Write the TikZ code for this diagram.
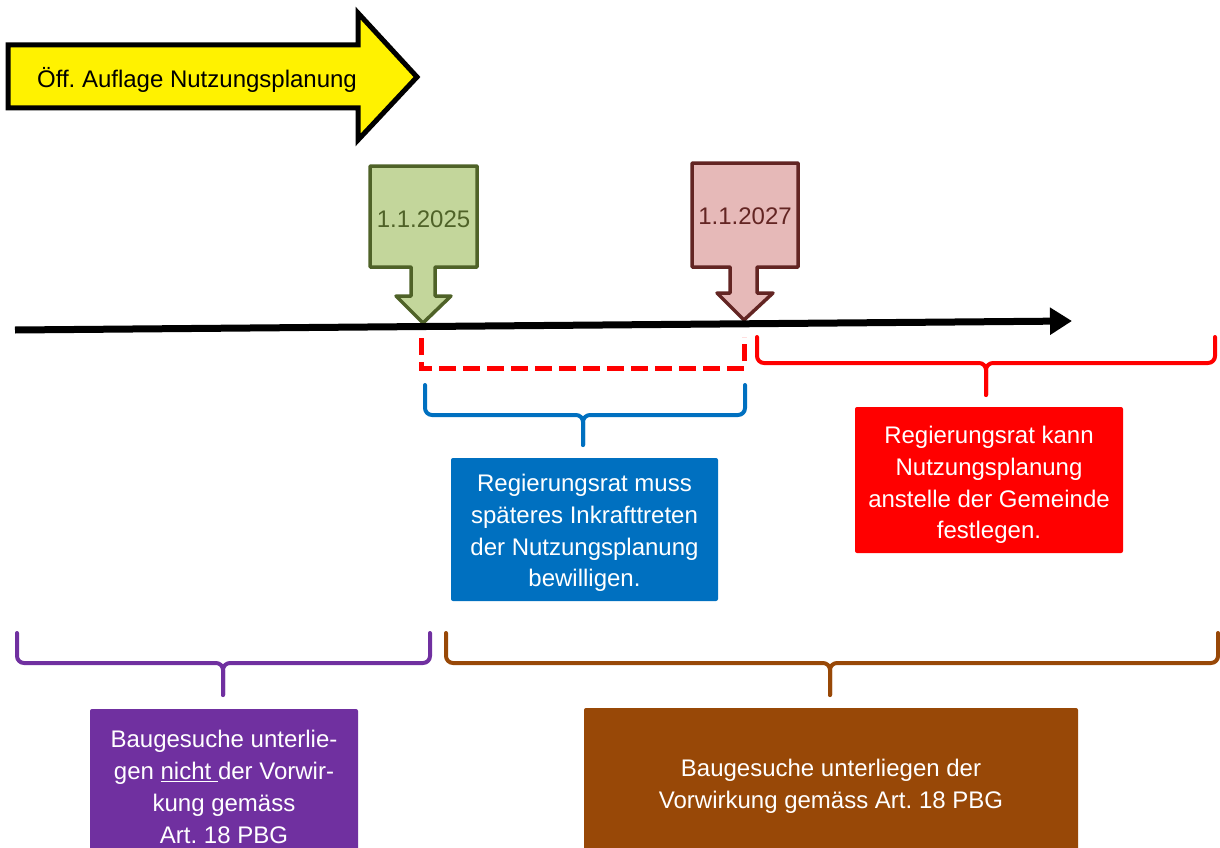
\documentclass[tikz,border=0pt]{standalone}
\usepackage{fontspec}
\setmainfont{Liberation Sans}
\usetikzlibrary{arrows.meta}
\frenchspacing
\definecolor{grnfill}{HTML}{C3D69B}
\definecolor{grnline}{HTML}{4F6228}
\definecolor{rosefill}{HTML}{E6B9B8}
\definecolor{roseline}{HTML}{632523}
\definecolor{bluec}{HTML}{0070C0}
\definecolor{redc}{HTML}{FF0000}
\definecolor{purp}{HTML}{7030A0}
\definecolor{brownc}{HTML}{984807}
\begin{document}
\begin{tikzpicture}[x=1pt,y=-1pt,
  txt/.style={font=\fontsize{24}{31.8}\selectfont, align=center, inner sep=0pt},
  bracestyle/.style={line width=4pt, line cap=round, line join=round, rounded corners=7pt},
  callout/.style={line width=3.5pt, line join=round},
  boxstyle/.style={rounded corners=2pt, draw=none}]
\useasboundingbox (0,0) rectangle (1220,848);

% yellow arrow
\draw[line width=5pt, fill=yellow, line join=miter]
  (8,45) -- (358,45) -- (358,13) -- (417,77) -- (358,140) -- (358,108) -- (8,108) -- cycle;
\node[txt, anchor=base] (auflage) at (197,88) {Öff. Auflage Nutzungsplanung};

% green callout
\draw[callout, draw=grnline, fill=grnfill]
  (370,166) -- (477,166) -- (477,267) -- (435,267) -- (435,296) -- (451,296) -- (423,323)
  -- (396,296) -- (411,296) -- (411,267) -- (370,267) -- cycle;
\node[txt, anchor=base, text=grnline] (d2025) at (423.5,227) {1.1.2025};

% rose callout
\draw[callout, draw=roseline, fill=rosefill]
  (692,163) -- (798,163) -- (798,267) -- (757,267) -- (757,293) -- (773,293) -- (744,320)
  -- (717,293) -- (730,293) -- (730,267) -- (692,267) -- cycle;
\node[txt, anchor=base, text=roseline] (d2027) at (745,224) {1.1.2027};

% timeline
\coordinate (tlA) at (15,330);
\coordinate (tlB) at (1072,321);
\draw[line width=7pt, -{Triangle[length=22pt,width=26pt]}] (tlA) -- (tlB);

% red dashed bracket
\coordinate (rdL) at (421,338);
\coordinate (rdM) at (744,368);
\coordinate (rdR) at (744,337);
\draw[redc, line width=5pt, dash pattern=on 17pt off 7pt] (rdL) |- (rdM) -- (rdR);

% blue brace
\coordinate (bL) at (425,385);
\coordinate (bR) at (745,385);
\coordinate (bM) at (583,415);
\coordinate (bT) at (583,445);
\draw[bracestyle, bluec] (bL) |- (bM) -- (bT);
\draw[bracestyle, bluec] (bR) |- (bM) -- (bT);

% red brace
\coordinate (rL) at (757,337);
\coordinate (rR) at (1215,337);
\coordinate (rM) at (986,363);
\coordinate (rT) at (986,395);
\draw[bracestyle, redc] (rL) |- (rM) -- (rT);
\draw[bracestyle, redc] (rR) |- (rM) -- (rT);

% purple brace
\coordinate (pL) at (17,633);
\coordinate (pR) at (430,633);
\coordinate (pM) at (223,663);
\coordinate (pT) at (223,695);
\draw[bracestyle, purp] (pL) |- (pM) -- (pT);
\draw[bracestyle, purp] (pR) |- (pM) -- (pT);

% brown brace
\coordinate (brL) at (446,633);
\coordinate (brR) at (1218,633);
\coordinate (brM) at (830,663);
\coordinate (brT) at (830,695);
\draw[bracestyle, brownc] (brL) |- (brM) -- (brT);
\draw[bracestyle, brownc] (brR) |- (brM) -- (brT);

% boxes
\fill[boxstyle, bluec] (451,458) rectangle (718,601);
\node[txt, text=white] (bluetxt) at (584.5,533) {Regierungsrat muss\\späteres Inkrafttreten\\der Nutzungsplanung\\bewilligen.};

\fill[boxstyle, redc] (855,407) rectangle (1123,553);
\node[txt, text=white] (redtxt) at (989,485) {Regierungsrat kann\\Nutzungsplanung\\anstelle der Gemeinde\\festlegen.};

\fill[boxstyle, purp] (90,709) rectangle (358,870);
\node[txt, text=white] (purptxt) at (224,787) {Baugesuche unterlie-\\gen \underline{nicht\ }der Vorwir-\\kung gemäss\\Art. 18 PBG};

\fill[boxstyle, brownc] (584,708) rectangle (1078,870);
\node[txt, text=white] (browntxt) at (831,786) {Baugesuche unterliegen der\\Vorwirkung gemäss Art. 18 PBG};
\end{tikzpicture}
\end{document}
